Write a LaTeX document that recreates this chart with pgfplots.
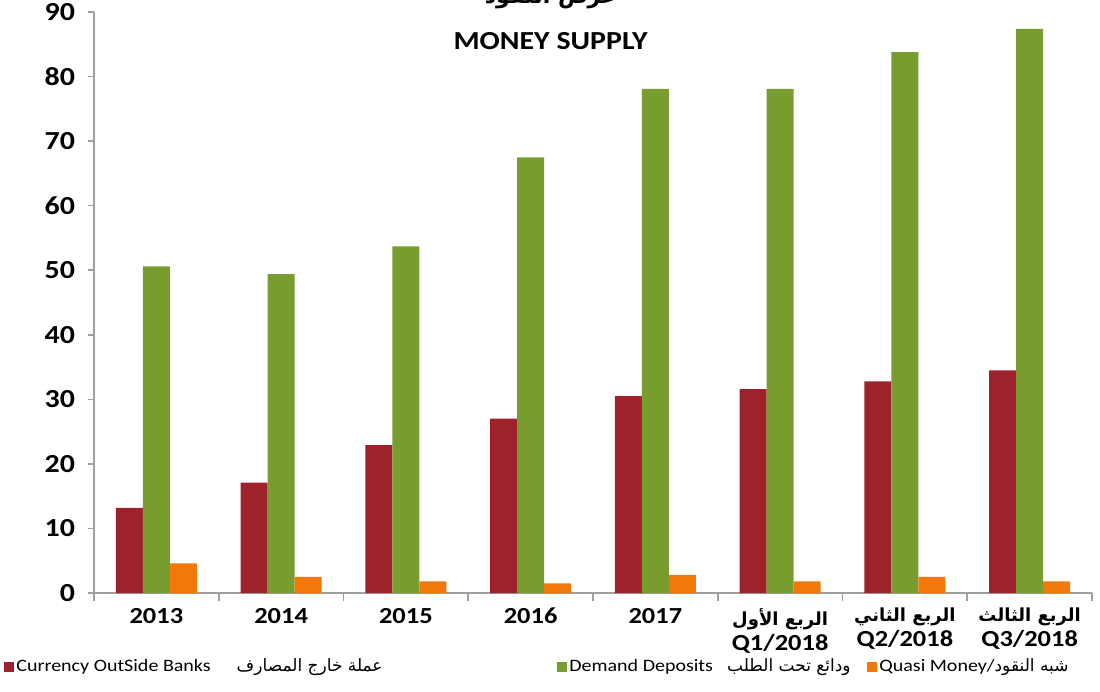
\documentclass[border=0pt]{standalone}
\usepackage{pgfplots}
\pgfplotsset{compat=1.18}
\usepackage{pgfplotstable}
\usepackage{fontspec}
\setmainfont{Carlito}[FakeStretch=1.15]
\newfontfamily\arabicfont[Script=Arabic]{DejaVu Sans}
\TeXXeTstate=1

\definecolor{barred}{RGB}{158,34,44}
\definecolor{bargreen}{RGB}{120,156,46}
\definecolor{barorange}{RGB}{242,120,10}

% money supply, billions
\pgfplotstableread{
x cur dem quasi
0 13.2 50.6 4.6
1 17.1 49.4 2.5
2 22.9 53.7 1.8
3 27.0 67.5 1.5
4 30.5 78.1 2.8
5 31.6 78.1 1.8
6 32.8 83.8 2.5
7 34.5 87.4 1.8
}\money

\begin{document}
\begin{tikzpicture}
\begin{axis}[
    scale only axis,
    width=499pt, height=290.5pt,
    xmin=-0.5, xmax=7.5, ymin=0, ymax=90,
    axis x line=bottom, axis y line=left,
    axis line style={-, draw=gray!75, line width=0.8pt},
    ytick={0,10,...,90},
    xtick={0,...,7},
    xticklabels={2013,2014,2015,2016,2017,
        {{\arabicfont\fontsize{9}{10}\selectfont\beginR الربع الأول\endR}\\Q1/2018},
        {{\arabicfont\fontsize{9}{10}\selectfont\beginR الربع الثاني\endR}\\Q2/2018},
        {{\arabicfont\fontsize{9}{10}\selectfont\beginR الربع الثالث\endR}\\Q3/2018}},
    minor xtick={-0.5,0.5,...,7.5},
    major x tick style={draw=none},
    minor x tick style={draw=gray!75, line width=0.8pt},
    y tick style={draw=gray!75, line width=0.8pt},
    tick align=outside,
    major tick length=3pt, minor tick length=4pt,
    /pgf/number format/assume math mode=true,
    yticklabel style={font=\bfseries\fontsize{13}{14}\selectfont, xshift=-3pt},
    xticklabel style={font=\bfseries\fontsize{11.5}{12.5}\selectfont, align=center, anchor=north, yshift=-1pt},
    ybar=0pt, bar width=13.5pt,
    legend columns=3,
    legend cell align=left,
    legend style={at={(axis description cs:0,0)}, anchor=west, xshift=-45pt, yshift=-37pt,
        draw=none, fill=none, inner sep=0pt, column sep=0pt,
        nodes={inner sep=0pt, font=\fontsize{8.7}{10}\selectfont}},
    clip=false,
]
\addplot[draw=none, fill=barred,
    legend image code/.code={\fill[barred] (0pt,-2.3pt) rectangle (4.6pt,2.3pt); \path (6pt,0pt);}]
    table[x=x, y=cur] {\money};
\addlegendentry{\makebox[270.5pt][l]{Currency OutSide Banks\hspace{13pt}{\arabicfont\fontsize{8.5}{10}\selectfont\beginR عملة خارج المصارف\endR}}}
\addplot[draw=none, fill=bargreen,
    legend image code/.code={\fill[bargreen] (0pt,-2.3pt) rectangle (4.6pt,2.3pt); \path (6pt,0pt);}]
    table[x=x, y=dem] {\money};
\addlegendentry{\makebox[149pt][l]{Demand Deposits\hspace{7pt}{\arabicfont\fontsize{8.5}{10}\selectfont\beginR ودائع تحت الطلب\endR}}}
\addplot[draw=none, fill=barorange,
    legend image code/.code={\fill[barorange] (0pt,-2.3pt) rectangle (4.6pt,2.3pt); \path (6pt,0pt);}]
    table[x=x, y=quasi] {\money};
\addlegendentry{Quasi Money/{\arabicfont\fontsize{8.5}{10}\selectfont\beginR شبه النقود\endR}}

\node[font=\bfseries\fontsize{13}{14}\selectfont] at (axis cs:3.16,85.5) {MONEY SUPPLY};
\node[font=\arabicfont\bfseries\fontsize{11}{12}\selectfont] at (axis cs:3.16,92.2) {\beginR عرض النقود\endR};
\end{axis}
\pgfresetboundingbox
\path[use as bounding box] (-47pt,-49.5pt) rectangle (503pt,296.5pt);
\end{tikzpicture}
\end{document}
